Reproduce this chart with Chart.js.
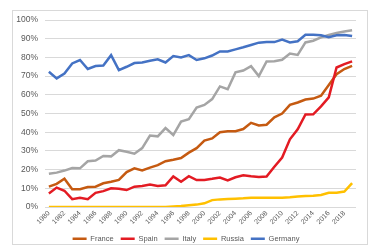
<!DOCTYPE html>
<html>
<head>
<meta charset="utf-8">
<script src="https://cdn.jsdelivr.net/npm/chart.js@4"></script>
<style>
  html, body { margin: 0; padding: 0; background: #fff; }
  #wrap { position: relative; width: 372px; height: 248px; }
</style>
</head>
<body>
<div id="wrap"><canvas id="chart" width="372" height="248"></canvas></div>
<script>
const years = [];
for (let y = 1980; y <= 2019; y++) years.push(String(y));

const seriesNames = ["France", "Spain", "Italy", "Russia", "Germany"];
const seriesColors = ["#C55A11", "#E31B23", "#A5A5A5", "#FFC000", "#4472C4"];

const france = [10.9, 12.4, 15.1, 9.5, 9.5, 10.7, 10.9, 12.7, 13.5, 14.5, 18.7, 20.7, 19.6, 21.1, 22.4, 24.5, 25.3, 26.2, 29.1, 31.5,
  35.5, 36.7, 40, 40.5, 40.5, 41.7, 45, 43.6, 44, 48, 50, 54.6, 55.9, 57.5, 58, 59.5, 65.2, 71, 73.8, 75.5];
const spain = [7.3, 10.4, 8.7, 4.2, 4.9, 4.2, 7.6, 8.5, 10, 9.8, 9.1, 10.9, 11.3, 12, 11.3, 11.6, 16.4, 13.5, 16.5, 14.4,
  14.5, 15.1, 15.8, 14.2, 15.9, 17, 16.5, 16.1, 16.3, 21.5, 26.5, 36.2, 41.6, 49.5, 49.6, 53.8, 58.6, 74.6, 76.4, 77.9];
const italy = [17.8, 18.4, 19.5, 20.9, 20.7, 24.5, 24.9, 27.3, 27.1, 30.4, 29.6, 28.5, 31.5, 38.2, 37.8, 42.2, 38.5, 45.7, 47, 53.2,
  54.6, 57.7, 64.5, 63, 72, 73, 75.3, 70, 77.8, 78, 78.7, 82.1, 81.3, 88, 88.9, 90.7, 92, 93, 93.9, 94.5];
const russia = [0, 0, 0, 0, 0, 0, 0, 0, 0, 0, 0, 0, 0, 0, 0, 0, 0.3, 0.5, 1, 1.3,
  2, 3.7, 4.1, 4.3, 4.5, 4.7, 5, 5, 5, 5, 5, 5.2, 5.6, 5.9, 6.1, 6.5, 7.6, 7.7, 8.3, 12.8];
const germany = [72.3, 68.8, 71.4, 76.8, 78.6, 73.8, 75.4, 75.7, 81.2, 73.2, 75, 77, 77.3, 78.2, 79, 77.3, 80.7, 80, 81.2, 78.6,
  79.5, 81, 83.2, 83.2, 84.3, 85.4, 86.6, 87.9, 88.2, 88.2, 89.5, 88, 88.6, 92.1, 92.1, 91.8, 90.8, 91.8, 92, 91.4];

const allSeries = [france, spain, italy, russia, germany];

// outer chart border like the spreadsheet frame
const frame = {
  id: "frame",
  beforeDraw(chart) {
    const ctx = chart.ctx;
    ctx.save();
    ctx.fillStyle = "#fff";
    ctx.fillRect(0, 0, chart.width, chart.height);
    ctx.strokeStyle = "#d9d9d9";
    ctx.lineWidth = 1;
    ctx.strokeRect(12.5, 10.5, 355, 234);
    ctx.restore();
  }
};

const datasets = seriesNames.map((name, i) => ({
  label: name,
  data: allSeries[i],
  borderColor: seriesColors[i],
  backgroundColor: seriesColors[i],
  borderWidth: 2.5,
  pointRadius: 0,
  tension: 0,
  fill: false,
  order: seriesNames.length - i
}));

new Chart("chart", {
  type: "line",
  data: { labels: years, datasets: datasets },
  plugins: [frame],
  options: {
    responsive: false,
    animation: false,
    layout: { padding: { left: 16, right: 16, top: 20, bottom: -4.5 } },
    plugins: {
      tooltip: { enabled: false },
      legend: {
        position: "bottom",
        labels: {
          usePointStyle: true,
          pointStyle: "line",
          pointStyleWidth: 14,
          boxHeight: 8,
          padding: 7,
          color: "#595959",
          font: { family: "Liberation Sans", size: 7.5 },
          sort: (a, b) => a.datasetIndex - b.datasetIndex
        }
      }
    },
    scales: {
      x: {
        offset: true,
        grid: { display: false, drawTicks: false },
        border: { display: false },
        ticks: {
          autoSkip: false,
          minRotation: 45,
          maxRotation: 45,
          padding: 2,
          color: "#595959",
          font: { family: "Liberation Sans", size: 7 },
          callback: function (val, idx) {
            return idx % 2 === 0 ? this.getLabelForValue(val) : "";
          }
        }
      },
      y: {
        min: 0,
        max: 100,
        grid: { color: "#d9d9d9", drawTicks: false, lineWidth: 1 },
        border: { display: false },
        afterFit: (scale) => { scale.width = 29; },
        ticks: {
          stepSize: 10,
          padding: 7,
          color: "#595959",
          font: { family: "Liberation Sans", size: 8.5 },
          callback: (v) => v + "%"
        }
      }
    }
  }
});
</script>
</body>
</html>
